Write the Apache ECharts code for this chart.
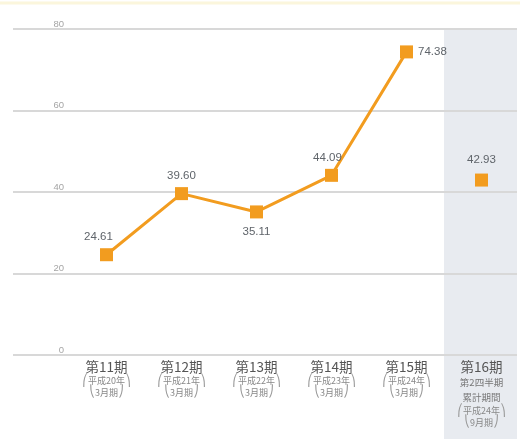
<!DOCTYPE html>
<html>
<head>
<meta charset="utf-8">
<script src="https://cdn.jsdelivr.net/npm/echarts@6/dist/echarts.min.js"></script>
<style>
  html, body { margin: 0; padding: 0; background: #ffffff; }
  #chart { width: 520px; height: 439px; }
</style>
</head>
<body>
<div id="chart"></div>
<script>
// Periods, with the fiscal-year note under each
const periods = ['第11期', '第12期', '第13期', '第14期', '第15期', '第16期'];
const periodNotes = [
  ['平成20年', '3月期'],
  ['平成21年', '3月期'],
  ['平成22年', '3月期'],
  ['平成23年', '3月期'],
  ['平成24年', '3月期'],
  ['平成24年', '9月期']
];
const interimNote = ['第2四半期', '累計期間'];
// Annual results (connected line) and the interim figure (stand-alone point)
const annualValues = [24.61, 39.60, 35.11, 44.09, 74.38];
const interimValue = 42.93;
// Value axis
const yTicks = [0, 20, 40, 60, 80];

const ORANGE = '#f29c1f';
const labelPlacement = ['top', 'top', 'bottom', 'top', 'right'];
const labelOffsets = [[-8, 0], [0, 0], [0, 2], [-4, 0], [0, 0]];

const lineData = periods.map((p, i) => {
  if (i >= annualValues.length) return '-';
  return {
    value: annualValues[i],
    label: { position: labelPlacement[i], offset: labelOffsets[i] }
  };
});
const pointData = periods.map((p, i) => (i === periods.length - 1 ? interimValue : '-'));

const chart = echarts.init(document.getElementById('chart'), null, { renderer: 'canvas' });

const valueLabel = {
  show: true,
  color: '#5f646a',
  fontSize: 11.5,
  fontFamily: 'Liberation Sans, Arial, sans-serif',
  formatter: p => Number(p.value).toFixed(2),
  distance: 5
};

function categoryLabel(value, idx) {
  const n = periodNotes[idx];
  const lines = ['{h|' + value + '}'];
  if (idx === periods.length - 1) {
    lines.push('{m|' + interimNote[0] + '}');
    lines.push('{m|' + interimNote[1] + '}');
  }
  lines.push('{b|⎛}{s|' + n[0] + '}{b|⎞}');
  lines.push('{b|⎝}{s|' + n[1] + '}{b|⎠}');
  return lines.join('\n');
}

chart.setOption({
  animation: false,
  backgroundColor: '#ffffff',
  grid: [
    { left: 13, right: 3, top: 29, bottom: 84 },
    { left: 69, right: 1, top: 29, bottom: 84 }
  ],
  xAxis: [
    { gridIndex: 0, type: 'value', show: false, min: 0, max: 1 },
    {
      gridIndex: 1,
      type: 'category',
      data: periods,
      boundaryGap: true,
      axisLine: { show: false },
      axisTick: { show: false },
      axisLabel: {
        margin: 3,
        interval: 0,
        formatter: categoryLabel,
        rich: {
          h: { fontSize: 13.5, color: '#555', fontFamily: 'Noto Sans CJK JP', lineHeight: 17 },
          m: { fontSize: 9.5, color: '#777', fontFamily: 'Noto Sans CJK JP', lineHeight: 15 },
          s: { fontSize: 9, color: '#888', fontFamily: 'Noto Sans CJK JP', lineHeight: 11.5 },
          b: { fontSize: 11.5, color: '#999', fontFamily: 'DejaVu Sans', lineHeight: 11.5 }
        }
      }
    }
  ],
  yAxis: [
    {
      gridIndex: 0,
      type: 'value',
      min: yTicks[0],
      max: yTicks[yTicks.length - 1],
      interval: yTicks[1] - yTicks[0],
      axisLine: { show: false },
      axisTick: { show: false },
      axisLabel: {
        inside: true,
        margin: 51,
        align: 'right',
        verticalAlign: 'bottom',
        color: '#a5a5a5',
        fontSize: 9.5,
        fontFamily: 'Liberation Sans, sans-serif'
      },
      splitLine: { lineStyle: { color: '#d8d8d8', width: 2 } }
    },
    {
      gridIndex: 1,
      type: 'value',
      min: yTicks[0],
      max: yTicks[yTicks.length - 1],
      show: false
    }
  ],
  series: [
    {
      type: 'line',
      xAxisIndex: 1,
      yAxisIndex: 1,
      data: lineData,
      symbol: 'rect',
      symbolSize: 13,
      lineStyle: { color: ORANGE, width: 3 },
      itemStyle: { color: ORANGE },
      label: valueLabel,
      z: 3
    },
    {
      type: 'line',
      xAxisIndex: 1,
      yAxisIndex: 1,
      data: pointData,
      symbol: 'rect',
      symbolSize: 13,
      showSymbol: true,
      lineStyle: { width: 0 },
      itemStyle: { color: ORANGE },
      label: Object.assign({}, valueLabel, { position: 'top', distance: 8 }),
      z: 3
    }
  ]
});

// Shade the interim period column from the top gridline down through its label
const bandLeft = chart.convertToPixel({ xAxisIndex: 1 }, periods.length - 1);
const bandTop = chart.convertToPixel({ yAxisIndex: 1 }, yTicks[yTicks.length - 1]);
const step = chart.convertToPixel({ xAxisIndex: 1 }, periods[1]) - chart.convertToPixel({ xAxisIndex: 1 }, periods[0]);
chart.setOption({
  graphic: [
    {
      type: 'rect',
      z: -10,
      silent: true,
      shape: { x: bandLeft - step / 2, y: bandTop, width: step - 2, height: 439 - bandTop },
      style: { fill: '#e8ebf0' }
    },
    {
      type: 'line',
      z: -10,
      silent: true,
      shape: { x1: 0, y1: 3, x2: 520, y2: 3 },
      style: { stroke: '#fbf6dc', lineWidth: 3 }
    }
  ]
});
</script>
</body>
</html>
